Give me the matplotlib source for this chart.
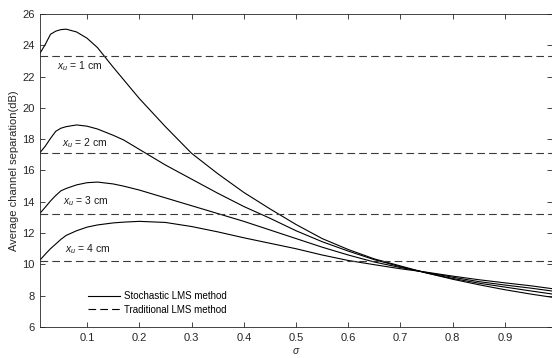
import matplotlib
matplotlib.use("Agg")
import matplotlib.pyplot as plt
from matplotlib.lines import Line2D
import numpy as np

plt.rcParams['font.family'] = ['Liberation Sans', 'DejaVu Sans']
plt.rcParams['mathtext.fontset'] = 'custom'
plt.rcParams['mathtext.rm'] = 'Liberation Sans'
plt.rcParams['mathtext.it'] = 'Liberation Sans:italic'
plt.rcParams['lines.scale_dashes'] = False

# sigma values
sigma = [0.01, 0.02, 0.03, 0.04, 0.05, 0.06, 0.08, 0.10, 0.12, 0.15, 0.17, 0.20,
         0.25, 0.30, 0.35, 0.40, 0.45, 0.50, 0.55, 0.60, 0.65, 0.70, 0.75,
         0.80, 0.85, 0.90, 0.95, 0.99]

# stochastic LMS method, average channel separation (dB)
sep_1cm = [23.49, 24.05, 24.7, 24.9, 25.0, 25.03, 24.85, 24.45, 23.85, 22.6, 21.8, 20.6,
           18.8, 17.1, 15.8, 14.6, 13.55, 12.55, 11.65, 10.95, 10.35, 9.9, 9.45,
           9.05, 8.7, 8.38, 8.1, 7.9]
sep_2cm = [17.14, 17.55, 18.05, 18.5, 18.7, 18.8, 18.91, 18.83, 18.65, 18.25, 17.95, 17.35,
           16.35, 15.45, 14.55, 13.7, 12.95, 12.15, 11.45, 10.85, 10.3, 9.85, 9.45,
           9.1, 8.8, 8.55, 8.3, 8.11]
sep_3cm = [13.27, 13.65, 14.05, 14.4, 14.7, 14.85, 15.08, 15.22, 15.26, 15.14, 15.0, 14.75,
           14.25, 13.75, 13.25, 12.75, 12.2, 11.65, 11.1, 10.6, 10.15, 9.8, 9.48,
           9.18, 8.9, 8.68, 8.48, 8.3]
sep_4cm = [10.28, 10.65, 11.0, 11.3, 11.6, 11.85, 12.15, 12.38, 12.52, 12.65, 12.7, 12.75,
           12.68, 12.42, 12.08, 11.7, 11.35, 11.0, 10.6, 10.25, 9.98, 9.72, 9.5,
           9.25, 9.02, 8.82, 8.63, 8.45]

# traditional LMS method (constant)
trad = [23.3, 17.1, 13.2, 10.2]
labels = [r'$x_u$ = 1 cm', r'$x_u$ = 2 cm', r'$x_u$ = 3 cm', r'$x_u$ = 4 cm']
label_x = [0.0425, 0.0515, 0.0534, 0.058]
label_y = [22.49, 17.57, 13.86, 10.81]

fig = plt.figure(figsize=(5.52, 3.58), dpi=100)
ax = fig.add_axes([0.0725, 0.0866, 0.9275, 0.8744])

dash = (0, (5.5, 3))
for s in [sep_1cm, sep_2cm, sep_3cm, sep_4cm]:
    ax.plot(sigma, s, color='k', lw=0.8)
for t in trad:
    ax.axhline(t, color='#3a3a3a', lw=0.8, linestyle=dash)
for lx, ly, lab in zip(label_x, label_y, labels):
    ax.text(lx, ly, lab, fontsize=7.5, va='baseline', ha='left', color='#1a1a1a')

ax.set_xlim(0.01, 0.99)
ax.set_ylim(6, 26)
ax.set_xticks(np.arange(0.1, 0.95, 0.1))
ax.set_xticklabels(['0.1', '0.2', '0.3', '0.4', '0.5', '0.6', '0.7', '0.8', '0.9'])
ax.set_yticks(np.arange(6, 27, 2))
ax.tick_params(direction='in', top=True, right=True, length=3.6, width=0.6,
               labelsize=8, colors='#262626', pad=4)
for sp in ax.spines.values():
    sp.set_linewidth(0.6)
    sp.set_color('#262626')

ax.set_ylabel('Average channel separation(dB)', fontsize=8, color='#262626')
ax.yaxis.set_label_coords(-0.041, 0.5)
fig.text(296 / 552, 1 - 346 / 358, r'$\sigma$', fontsize=7.5, ha='center', va='top',
         color='#262626')

handles = [Line2D([], [], color='k', lw=0.8),
           Line2D([], [], color='k', lw=0.8, linestyle=dash)]
ax.legend(handles, ['Stochastic LMS method', 'Traditional LMS method'],
          loc='center left', bbox_to_anchor=(84 / 552, 1 - 303 / 358),
          bbox_transform=fig.transFigure, frameon=False,
          fontsize=7, handlelength=3.3, handletextpad=0.4, labelspacing=0.35,
          borderpad=0.4, borderaxespad=0)

fig.savefig('out.png', dpi=100)
